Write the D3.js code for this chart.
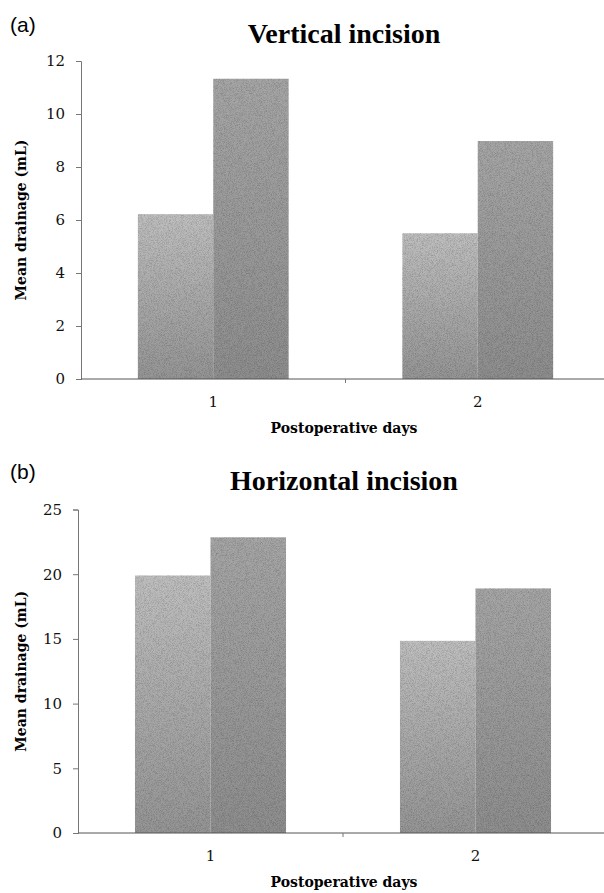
<!DOCTYPE html>
<html>
<head>
<meta charset="utf-8">
<script src="https://cdn.jsdelivr.net/npm/d3@7"></script>
<style>
  body { margin: 0; background: #fff; }
  svg { display: block; }
</style>
</head>
<body>
<svg id="chart" width="604" height="893"></svg>
<script>
// data
const days = ['1', '2'];
const groups = ['g1', 'g2'];
const verticalValues = [[6.22, 11.33], [5.5, 8.98]];
const horizontalValues = [[19.9, 22.85], [14.85, 18.9]];
const verticalTicks = [0, 2, 4, 6, 8, 10, 12];
const horizontalTicks = [0, 5, 10, 15, 20, 25];

const panels = [
  {tag: '(a)', title: 'Vertical incision', values: verticalValues, ticks: verticalTicks,
   max: 12, top: 0, x0: 81, x1: 610, y0: 379, y1: 61},
  {tag: '(b)', title: 'Horizontal incision', values: horizontalValues, ticks: horizontalTicks,
   max: 25, top: 447, x0: 78, x1: 608, y0: 833, y1: 509.5}
];

const serif = 'DejaVu Serif, serif';

const svg = d3.select('#chart');

const defs = svg.append('defs');
const grads = [['#bfbfbf', '#959595'], ['#a6a6a6', '#8e8e8e']];
grads.forEach((c, i) => {
  const g = defs.append('linearGradient')
    .attr('id', 'grad' + i)
    .attr('x1', 0).attr('y1', 0).attr('x2', 0).attr('y2', 1);
  g.append('stop').attr('offset', '0%').attr('stop-color', c[0]);
  g.append('stop').attr('offset', '100%').attr('stop-color', c[1]);
});

// grain, like the scanned print
const f = defs.append('filter').attr('id', 'grain')
  .attr('x', 0).attr('y', 0).attr('width', 1).attr('height', 1);
f.append('feTurbulence').attr('type', 'fractalNoise')
  .attr('baseFrequency', 1.4).attr('numOctaves', 1).attr('seed', 3).attr('result', 'n');
f.append('feColorMatrix').attr('in', 'n').attr('type', 'matrix')
  .attr('values', '0 0 0 0 0  0 0 0 0 0  0 0 0 0 0  0 0 0 0.9 -0.35').attr('result', 'a');
f.append('feComposite').attr('in', 'a').attr('in2', 'SourceGraphic').attr('operator', 'in').attr('result', 'b');
f.append('feBlend').attr('in', 'SourceGraphic').attr('in2', 'b').attr('mode', 'multiply');

panels.forEach(p => {
  const g = svg.append('g');

  const x = d3.scaleBand().domain(days).range([p.x0, p.x1]);
  const xs = d3.scaleBand().domain(groups)
    .range([x.bandwidth() * 0.215, x.bandwidth() * 0.785]);
  const y = d3.scaleLinear().domain([0, p.max]).range([p.y0, p.y1]);

  // bars
  g.selectAll('g.day')
    .data(p.values)
    .join('g')
    .attr('class', 'day')
    .attr('transform', (d, i) => `translate(${x(days[i])},0)`)
    .selectAll('rect')
    .data(d => d)
    .join('rect')
    .attr('x', (d, i) => xs(groups[i]))
    .attr('y', d => y(d))
    .attr('width', xs.bandwidth())
    .attr('height', d => y(0) - y(d))
    .attr('fill', (d, i) => `url(#grad${i})`)
    .attr('filter', 'url(#grain)');

  // y axis
  const ya = g.append('g')
    .attr('transform', `translate(${p.x0},0)`)
    .call(d3.axisLeft(y).tickValues(p.ticks).tickSize(5).tickPadding(11));
  ya.select('.domain').attr('stroke', '#777');
  ya.selectAll('.tick line').attr('stroke', '#777');
  ya.selectAll('.tick text')
    .attr('font-family', serif)
    .attr('font-size', 15)
    .attr('fill', '#111');

  // x axis, ticks on category boundaries
  const xa = g.append('g').attr('transform', `translate(0,${p.y0})`);
  xa.append('line')
    .attr('x1', p.x0).attr('x2', p.x1)
    .attr('stroke', '#555');
  xa.selectAll('line.sep')
    .data(days.slice(1))
    .join('line')
    .attr('class', 'sep')
    .attr('x1', d => x(d)).attr('x2', d => x(d))
    .attr('y1', 0).attr('y2', 4)
    .attr('stroke', '#777');
  xa.selectAll('text')
    .data(days)
    .join('text')
    .attr('x', d => x(d) + x.bandwidth() / 2)
    .attr('y', 28)
    .attr('text-anchor', 'middle')
    .attr('font-family', serif)
    .attr('font-size', 15)
    .attr('fill', '#111')
    .text(d => d);

  // labels
  g.append('text')
    .attr('x', 10).attr('y', p.top + 32)
    .attr('font-family', 'Liberation Sans, Arial, sans-serif')
    .attr('font-size', 21)
    .text(p.tag);

  g.append('text')
    .attr('x', 344).attr('y', p.top + 43)
    .attr('text-anchor', 'middle')
    .attr('font-family', 'Liberation Serif, serif')
    .attr('font-weight', 'bold')
    .attr('font-size', 28)
    .text(p.title);

  g.append('text')
    .attr('x', 344).attr('y', p.y0 + 54)
    .attr('text-anchor', 'middle')
    .attr('font-family', serif)
    .attr('font-weight', 'bold')
    .attr('font-size', 14)
    .text('Postoperative days');

  g.append('text')
    .attr('transform', `translate(26,${(p.y0 + p.y1) / 2}) rotate(-90)`)
    .attr('text-anchor', 'middle')
    .attr('font-family', serif)
    .attr('font-weight', 'bold')
    .attr('font-size', 14)
    .text('Mean drainage (mL)');
});
</script>
</body>
</html>
